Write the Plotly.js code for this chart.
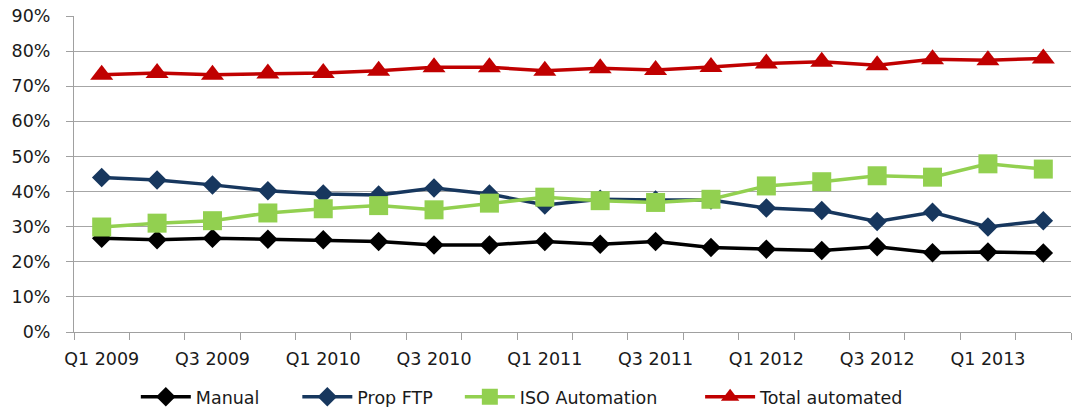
<!DOCTYPE html>
<html><head><meta charset="utf-8">
<script src="https://cdn.plot.ly/plotly-3.0.1.min.js"></script>
<style>html,body{margin:0;padding:0;background:#fff}#chart{width:1073px;height:407px}</style>
</head><body><div id="chart"></div>
<script>
const categories = ["Q1 2009","Q2 2009","Q3 2009","Q4 2009","Q1 2010","Q2 2010","Q3 2010","Q4 2010","Q1 2011","Q2 2011","Q3 2011","Q4 2011","Q1 2012","Q2 2012","Q3 2012","Q4 2012","Q1 2013","Q2 2013"];
const manual = [0.267,0.263,0.267,0.264,0.263,0.258,0.248,0.248,0.258,0.250,0.258,0.241,0.236,0.232,0.243,0.226,0.228,0.225];
const propFTP = [0.440,0.433,0.419,0.402,0.393,0.390,0.410,0.393,0.362,0.378,0.376,0.376,0.353,0.346,0.315,0.341,0.299,0.317];
const isoAutomation = [0.299,0.310,0.317,0.339,0.351,0.360,0.348,0.367,0.384,0.374,0.369,0.378,0.416,0.428,0.445,0.441,0.479,0.464];
const totalAutomated = [0.733,0.738,0.733,0.736,0.738,0.744,0.754,0.754,0.744,0.751,0.746,0.755,0.765,0.770,0.760,0.777,0.774,0.779];
const yTicks = [0,0.1,0.2,0.3,0.4,0.5,0.6,0.7,0.8,0.9];

const tickText = categories.map((c,i)=> i%2===0 ? c : '');

function tr(name, y, color, symbol, size, legend){
  return {type:'scatter', mode:'lines+markers', name:name, x:categories, y:y, legend:legend,
    line:{color:color, width:3.5}, marker:{symbol:symbol, size:size, color:color}, cliponaxis:false};
}
const data = [
  tr('Manual', manual, '#000000', 'diamond', 15, 'legend'),
  tr('Prop FTP', propFTP, '#17375E', 'diamond', 15, 'legend2'),
  tr('ISO Automation', isoAutomation, '#92D050', 'square', 19, 'legend3'),
  tr('Total automated', totalAutomated, '#C00000', 'triangle-up', 20, 'legend4')
];
const font = {family:'DejaVu Sans, Arial, sans-serif', size:17.5, color:'#1a1a1a'};
function lg(x){ return {orientation:'h', x:x, xanchor:'left', yref:'container', y:0.025, yanchor:'middle', font:font, itemwidth:50, bgcolor:'rgba(0,0,0,0)'}; }
const layout = {
  width:1073, height:407,
  margin:{l:74, r:2, t:16, b:75},
  paper_bgcolor:'#fff', plot_bgcolor:'#fff',
  font:font,
  showlegend:true,
  legend:lg(0.062), legend2:lg(0.224), legend3:lg(0.387), legend4:lg(0.628),
  xaxis:{type:'category', categoryorder:'array', categoryarray:categories, range:[-0.5, categories.length-0.5],
    tickvals:categories, ticktext:tickText, tickson:'boundaries', ticks:'outside', ticklen:7, tickcolor:'#A0A0A0',
    tickangle:0, ticklabelstandoff:11, automargin:false,
    showgrid:false, zeroline:false, showline:true, linecolor:'#A0A0A0', linewidth:1, tickfont:font},
  yaxis:{range:[0,0.9], tickvals:yTicks, tickformat:'.0%', ticks:'outside', ticklen:7, tickcolor:'#A0A0A0',
    ticklabelstandoff:12, automargin:false,
    showgrid:true, gridcolor:'#A6A6A6', gridwidth:1, showline:true, linecolor:'#A0A0A0', zeroline:false, tickfont:font}
};
Plotly.newPlot('chart', data, layout, {staticPlot:true});
</script></body></html>
